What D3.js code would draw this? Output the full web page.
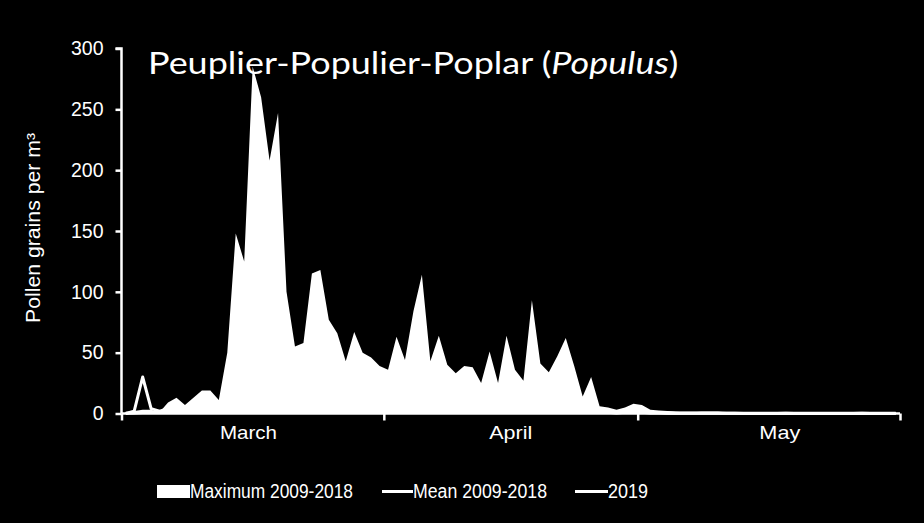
<!DOCTYPE html>
<html>
<head>
<meta charset="utf-8">
<script src="https://cdn.jsdelivr.net/npm/d3@7"></script>
<style>
  html, body { margin: 0; padding: 0; background: #000; }
  svg { display: block; }
</style>
</head>
<body>
<svg id="chart" width="924" height="523"></svg>
<script>
// ---- Data (daily values, 1 March – 31 May) ----
const months = ["March", "April", "May"];
const monthDays = [31, 30, 31];
const monthLabelDay = [15, 46, 77.8];
const yTicks = [0, 50, 100, 150, 200, 250, 300];

const maxValues = [
  1, 2, 3, 3, 1, 9, 13, 7, 13, 19,
  19, 11, 50, 148, 125, 285, 260, 208, 247, 100,
  55, 58, 115, 118, 77, 66, 43, 67, 50, 46,
  39, 36, 63, 44, 84, 114, 43, 64, 40, 33,
  39, 38, 25, 51, 25, 64, 36, 27, 93, 41,
  34, 47, 62, 39, 14, 30, 6, 5, 3, 5,
  8, 7, 3, 2.5, 2, 1.5, 1, 1, 1.5, 1.5,
  1.5, 1, 1, 0.5, 0.5, 0.5, 0.5, 0.5, 1, 0.5,
  0.5, 0.5, 0.5, 0.5, 0.5, 0.5, 0.5, 1, 0.5, 0.5,
  0.5, 0.5
];

const meanValues = [
  0.3, 0.5, 0.8, 1, 1, 2, 3, 2, 3, 4,
  5, 4, 9, 22, 20, 38, 35, 30, 36, 18,
  12, 13, 22, 24, 17, 15, 11, 15, 12, 11,
  10, 9, 14, 11, 17, 21, 10, 13, 9, 8,
  9, 8, 6, 10, 6, 11, 7, 6, 14, 8,
  7, 8, 10, 7, 4, 5, 2, 1.5, 1, 1.5,
  2, 2, 1, 0.8, 0.6, 0.5, 0.4, 0.4, 0.5, 0.5,
  0.4, 0.3, 0.3, 0.2, 0.2, 0.2, 0.2, 0.2, 0.3, 0.2,
  0.2, 0.2, 0.2, 0.2, 0.2, 0.2, 0.2, 0.3, 0.2, 0.2,
  0.2, 0.2
];

const values2019 = [
  0, 2, 30, 4, 2, 4, 3, 2, 3, 5,
  6, 5, 12, 20, 18, 30, 26, 24, 28, 15,
  10, 12, 20, 22, 14, 12, 9, 12, 10, 9,
  8, 8, 12, 9, 14, 18, 8, 11, 7, 6,
  7, 6, 5, 8, 5, 9, 6, 5, 10, 6,
  5, 6, 8, 5, 3, 4, 1, 1, 0.5, 1,
  1.5, 1, 0.5, 0.5, 0.3, 0.3, 0.2, 0.2, 0.3, 0.3,
  0.2, 0.2, 0.2, 0.1, 0.1, 0.1, 0.1, 0.1, 0.2, 0.1,
  0.1, 0.1, 0.1, 0.1, 0.1, 0.1, 0.1, 0.2, 0.1, 0.1,
  0.1, 0.1
];

const legendLabels = ["Maximum 2009-2018", "Mean 2009-2018", "2019"];

// ---- Layout ----
const svg = d3.select("#chart");
const totalDays = d3.sum(monthDays);
const x = d3.scaleLinear().domain([0, totalDays]).range([121.5, 900]);
const y = d3.scaleLinear().domain([0, 300]).range([413.5, 48.5]);
const px = (d, i) => x(i + 0.5);

svg.append("rect").attr("width", 924).attr("height", 523).attr("fill", "#000");

// Area (maximum)
const area = d3.area().x(px).y0(y(0)).y1(d => y(d)).curve(d3.curveLinear);
svg.append("path").datum(maxValues).attr("d", area).attr("fill", "#fff");

// Lines
const line = d3.line().x(px).y(d => y(d));
svg.append("path").datum(meanValues).attr("d", line)
  .attr("fill", "none").attr("stroke", "#fff").attr("stroke-width", 3).attr("stroke-linejoin", "round");
svg.append("path").datum(values2019).attr("d", line)
  .attr("fill", "none").attr("stroke", "#fff").attr("stroke-width", 3).attr("stroke-linejoin", "round");

// Y axis
const yAxis = d3.axisLeft(y).tickValues(yTicks).tickSize(6).tickPadding(12);
const gy = svg.append("g").attr("transform", "translate(121.5,0)").call(yAxis);
gy.select(".domain").attr("stroke", "#fff").attr("stroke-width", 2.5).attr("d", `M-6,${y(300)}H0V${y(0)}`);
gy.selectAll(".tick line").attr("stroke", "#fff").attr("stroke-width", 2.5);
gy.selectAll(".tick text").attr("fill", "#fff").attr("font-family", "Liberation Sans, Arial, sans-serif")
  .attr("font-size", 19.5);

// X axis
const cum = [0];
monthDays.forEach(d => cum.push(cum[cum.length - 1] + d));
const xAxis = d3.axisBottom(x).tickValues(cum).tickSize(7).tickFormat("");
const gx = svg.append("g").attr("transform", `translate(0,${y(0)})`).call(xAxis);
gx.select(".domain").attr("stroke", "#fff").attr("stroke-width", 2.5).attr("d", `M${x(0)},0H${x(totalDays)}`);
gx.selectAll(".tick line").attr("stroke", "#fff").attr("stroke-width", 2.5);

const monthWidths = [57, 43, 41];
svg.append("g").selectAll("text").data(months).join("text")
  .attr("x", (d, i) => x(monthLabelDay[i]) - monthWidths[i] / 2)
  .attr("y", 439)
  .attr("fill", "#fff")
  .attr("font-family", "Liberation Sans, Arial, sans-serif")
  .attr("font-size", 19)
  .attr("textLength", (d, i) => monthWidths[i])
  .attr("lengthAdjust", "spacingAndGlyphs")
  .text(d => d);

// Y title
svg.append("text")
  .attr("transform", "translate(40,323) rotate(-90)")
  .attr("fill", "#fff")
  .attr("font-family", "Liberation Sans, Arial, sans-serif")
  .attr("font-size", 19.5)
  .attr("textLength", 190)
  .attr("lengthAdjust", "spacingAndGlyphs")
  .text("Pollen grains per m³");

// Title (slightly stretched horizontally as in the reference)
const title = svg.append("text")
  .attr("transform", "translate(148,74) scale(1.16,1)")
  .attr("fill", "#fff")
  .attr("font-family", "Lato, 'Open Sans', sans-serif")
  .attr("font-size", 31);
title.append("tspan").text("Peuplier-Populier-Poplar (");
title.append("tspan").attr("font-style", "italic").text("Populus");
title.append("tspan").text(")");

// Legend
const lg = svg.append("g").attr("font-family", "Liberation Sans, Arial, sans-serif").attr("font-size", 20).attr("fill", "#fff");
lg.append("rect").attr("x", 157).attr("y", 485).attr("width", 33).attr("height", 13).attr("fill", "#fff");
lg.append("text").attr("x", 190).attr("y", 498).attr("textLength", 163).attr("lengthAdjust", "spacingAndGlyphs").text(legendLabels[0]);
lg.append("line").attr("x1", 382).attr("x2", 413).attr("y1", 491.5).attr("y2", 491.5).attr("stroke", "#fff").attr("stroke-width", 3);
lg.append("text").attr("x", 413).attr("y", 498).attr("textLength", 134).attr("lengthAdjust", "spacingAndGlyphs").text(legendLabels[1]);
lg.append("line").attr("x1", 575).attr("x2", 608).attr("y1", 491.5).attr("y2", 491.5).attr("stroke", "#fff").attr("stroke-width", 3);
lg.append("text").attr("x", 608).attr("y", 498).attr("textLength", 40).attr("lengthAdjust", "spacingAndGlyphs").text(legendLabels[2]);
</script>
</body>
</html>
